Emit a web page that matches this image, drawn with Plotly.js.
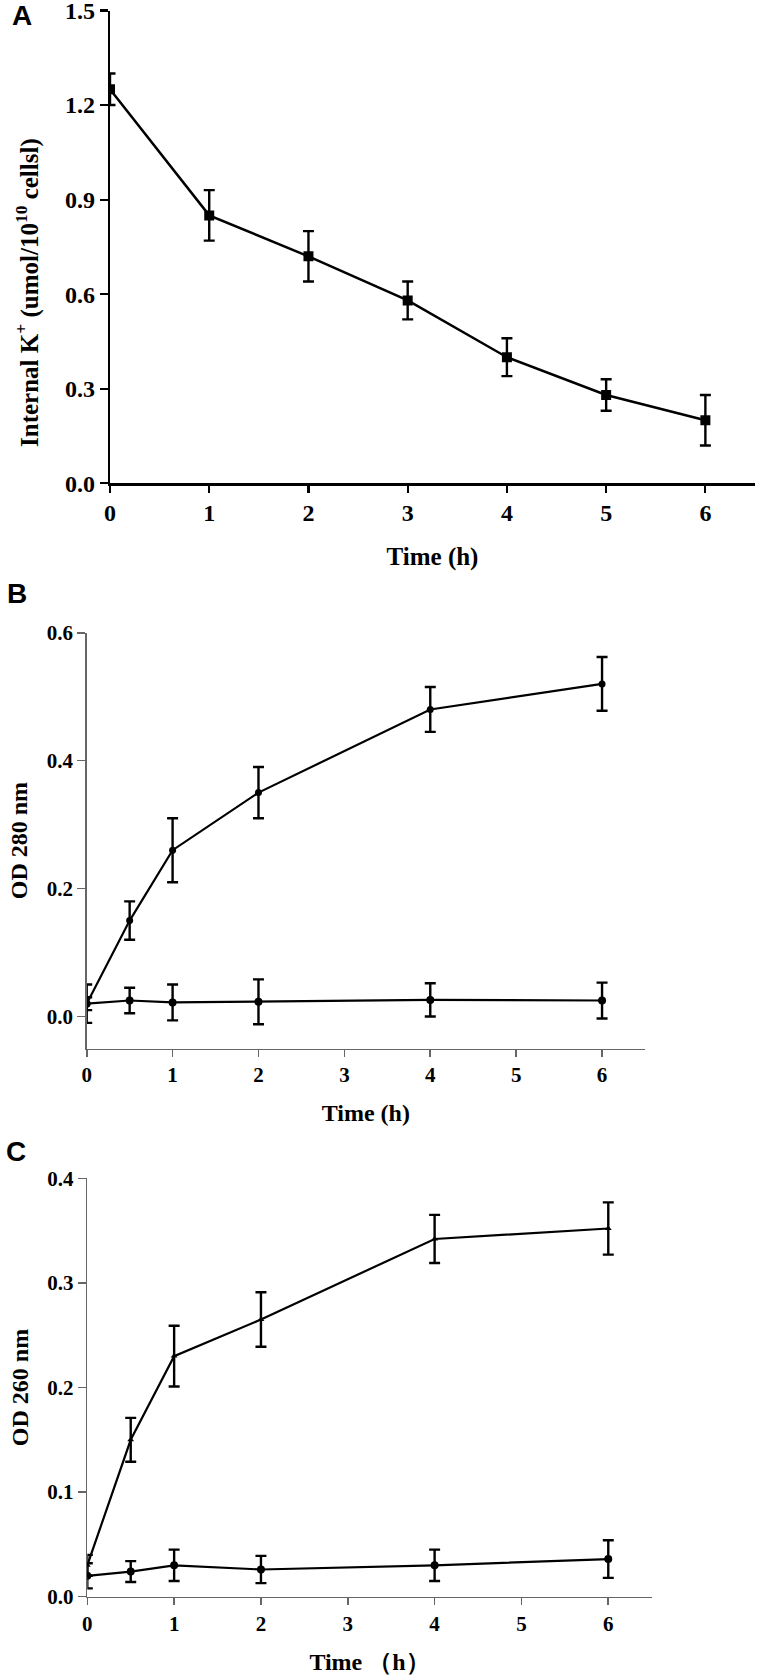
<!DOCTYPE html>
<html>
<head>
<meta charset="utf-8">
<script src="https://cdn.plot.ly/plotly-3.0.1.min.js"></script>
<style>
  html, body { margin: 0; padding: 0; background: #fff; }
  #chart { width: 760px; height: 1676px; }
</style>
</head>
<body>
<div id="chart"></div>
<script>
// ---- Panel A data ----
const timeA = [0, 1, 2, 3, 4, 5, 6];
const kInternal = [1.25, 0.85, 0.72, 0.58, 0.40, 0.28, 0.20];
const kInternalErr = [0.05, 0.08, 0.08, 0.06, 0.06, 0.05, 0.08];

// ---- Panels B and C data ----
const timeBC = [0, 0.5, 1, 2, 4, 6];
const od280Treated = [0.02, 0.15, 0.26, 0.35, 0.48, 0.52];
const od280TreatedErr = [0.03, 0.03, 0.05, 0.04, 0.035, 0.042];
const od280Control = [0.02, 0.025, 0.022, 0.023, 0.026, 0.025];
const od280ControlErr = [0.01, 0.02, 0.028, 0.035, 0.026, 0.028];

const od260Treated = [0.03, 0.15, 0.23, 0.265, 0.342, 0.352];
const od260TreatedErr = [0.01, 0.021, 0.029, 0.026, 0.023, 0.025];
const od260Control = [0.02, 0.024, 0.03, 0.026, 0.03, 0.036];
const od260ControlErr = [0.012, 0.01, 0.015, 0.013, 0.015, 0.018];

// ---- Text ----
const panelLabels = ['A', 'B', 'C'];
const xTitleA = 'Time (h)';
const yTitleA = 'Internal K<sup>+</sup> (umol/10<sup>10</sup> cellsl)';
const xTitleB = 'Time (h)';
const yTitleB = 'OD 280 nm';
const xTitleC = 'Time （h）';
const yTitleC = 'OD 260 nm';
const xTicks = [0, 1, 2, 3, 4, 5, 6];
const yTicksA = [0, 0.3, 0.6, 0.9, 1.2, 1.5];
const yTicksB = [0, 0.2, 0.4, 0.6];
const yTicksC = [0, 0.1, 0.2, 0.3, 0.4];

// ---- Styling ----
const W = 760, H = 1676;
const serif = 'Liberation Serif, Times New Roman, serif';
const sans = 'Liberation Sans, Arial, sans-serif';
const px = v => v / W;
const py = v => 1 - v / H;

function series(x, y, err, xa, ya, symbol, size, lw) {
  return {
    x: x, y: y, xaxis: xa, yaxis: ya,
    type: 'scatter', mode: 'lines+markers',
    line: { color: '#000', width: lw },
    marker: { color: '#000', symbol: symbol, size: size },
    error_y: { type: 'data', array: err, visible: true, color: '#000', thickness: 2.4, width: 5.5 },
    showlegend: false, hoverinfo: 'x+y'
  };
}

const data = [
  series(timeA, kInternal, kInternalErr, 'x', 'y', 'square', 10, 2.5),
  series(timeBC, od280Treated, od280TreatedErr, 'x2', 'y2', 'circle', 7, 2.2),
  series(timeBC, od280Control, od280ControlErr, 'x2', 'y2', 'circle', 8, 2.2),
  series(timeBC, od260Treated, od260TreatedErr, 'x3', 'y3', 'triangle-up', 6, 2.2),
  series(timeBC, od260Control, od260ControlErr, 'x3', 'y3', 'circle', 8, 2.2)
];

function xAxis(domain, anchor, title, lineColor, lineWidth, tickSize, titleSize, standoff) {
  return {
    domain: domain, anchor: anchor, range: [0, 6.5],
    tickvals: xTicks, ticktext: xTicks.map(String),
    ticks: 'outside', ticklen: 7, tickwidth: lineWidth, tickcolor: lineColor,
    showline: true, linecolor: lineColor, linewidth: lineWidth,
    showgrid: false, zeroline: false, ticklabeloverflow: 'allow',
    tickfont: { family: serif, size: tickSize, color: '#000', weight: 'bold' },
    title: { text: title, standoff: standoff, font: { family: serif, size: titleSize, color: '#000', weight: 'bold' } }
  };
}
function yAxis(domain, anchor, range, ticks, title, lineColor, lineWidth, tickSize, titleSize, standoff) {
  return {
    domain: domain, anchor: anchor, range: range,
    tickvals: ticks, ticktext: ticks.map(v => v.toFixed(1)),
    ticks: 'outside', ticklen: 8, tickwidth: lineWidth, tickcolor: lineColor,
    showline: true, linecolor: lineColor, linewidth: lineWidth,
    showgrid: false, zeroline: false, ticklabeloverflow: 'allow',
    tickfont: { family: serif, size: tickSize, color: '#000', weight: 'bold' },
    title: { text: title, standoff: standoff, font: { family: serif, size: titleSize, color: '#000', weight: 'bold' } }
  };
}

const labelFont = { family: sans, size: 28, color: '#000', weight: 'bold' };

const layout = {
  width: W, height: H,
  margin: { l: 0, r: 0, t: 0, b: 0 },
  paper_bgcolor: '#fff', plot_bgcolor: 'rgba(0,0,0,0)',
  showlegend: false,
  xaxis: xAxis([px(110), px(755)], 'y', xTitleA, '#000', 2.2, 24, 25, 22),
  yaxis: yAxis([py(483.3), py(10.5)], 'x', [0, 1.5], yTicksA, '', '#000', 2.2, 24, 25, 22),
  xaxis2: xAxis([px(86.7), px(645)], 'y2', xTitleB, '#666', 1.6, 21, 24, 18),
  yaxis2: yAxis([py(1048.5), py(632.7)], 'x2', [-0.05, 0.6], yTicksB, yTitleB, '#666', 1.6, 21, 24, 12),
  xaxis3: xAxis([px(87.3), px(651.7)], 'y3', xTitleC, '#666', 1.6, 21, 24, 18),
  yaxis3: yAxis([py(1596.7), py(1178.3)], 'x3', [0, 0.4], yTicksC, yTitleC, '#666', 1.6, 21, 24, 12),
  annotations: [
    { text: yTitleA, x: px(28), y: py(293), xref: 'paper', yref: 'paper', showarrow: false,
      xanchor: 'center', yanchor: 'middle', textangle: -90,
      font: { family: serif, size: 25, color: '#000', weight: 'bold' } },
    { text: panelLabels[0], x: px(22), y: py(16), xref: 'paper', yref: 'paper', showarrow: false,
      xanchor: 'center', yanchor: 'middle', font: labelFont },
    { text: panelLabels[1], x: px(17), y: py(593), xref: 'paper', yref: 'paper', showarrow: false,
      xanchor: 'center', yanchor: 'middle', font: labelFont },
    { text: panelLabels[2], x: px(16), y: py(1151), xref: 'paper', yref: 'paper', showarrow: false,
      xanchor: 'center', yanchor: 'middle', font: labelFont }
  ]
};

Plotly.newPlot('chart', data, layout, { staticPlot: true, displayModeBar: false });
</script>
</body>
</html>
